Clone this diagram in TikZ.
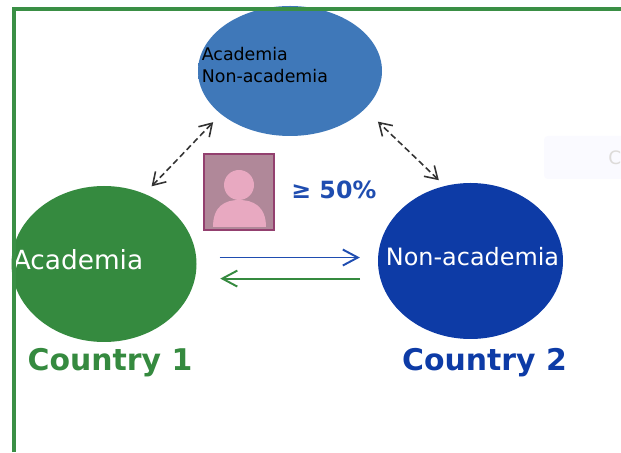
\documentclass[tikz,border=0pt]{standalone}
\usepackage{fontspec}
\setmainfont{DejaVu Sans}
\usepackage{xcolor}
\usetikzlibrary{shapes}
\usetikzlibrary{arrows.meta}
\definecolor{framegreen}{HTML}{3A8F45}
\definecolor{countrygreen}{HTML}{358A3F}
\definecolor{countryblue}{HTML}{0D3BA6}
\definecolor{hubblue}{HTML}{3F78B9}
\definecolor{hubedge}{HTML}{2A5488}
\definecolor{textblue}{HTML}{1F4DB0}
\definecolor{boxmauve}{HTML}{B08899}
\definecolor{boxedge}{HTML}{93406F}
\definecolor{personpink}{HTML}{E8A9C1}
\pgfdeclareradialshading{hubshade}{\pgfpoint{0bp}{0bp}}{color(0bp)=(hubblue); color(44bp)=(hubblue); color(50bp)=(hubedge)}
\tikzset{
  blob/.style={ellipse,inner sep=0pt,minimum width=3.7cm,minimum height=3.12cm},
  blobtext/.style={inner sep=0pt,white},
  hubtext/.style={inner sep=0pt,font=\fontsize{9.9}{12.5}\selectfont,black,align=left,anchor=west},
  countrytext/.style={inner sep=0pt,font=\fontsize{17}{20}\selectfont\bfseries},
  linkarrow/.style={{Straight Barb[length=2.4mm,width=3mm]}-{Straight Barb[length=2.4mm,width=3mm]},dash pattern=on 3.5pt off 2pt,line width=0.9pt,black!80},
  flowarrow/.style={-{Straight Barb[length=3mm,width=3.2mm]},line width=1.1pt}
}
\begin{document}
\begin{tikzpicture}
  \useasboundingbox (0,0) rectangle (12.42,9.04);
  \fill[blue!2,rounded corners=2pt] (10.88,5.46) rectangle (12.6,6.32);
  \node[inner sep=0pt,anchor=west,text=orange!10!black!15,font=\fontsize{10.5}{12}\selectfont] (faintc) at (12.16,5.88) {C};

  \node[blob,shading=hubshade,minimum width=3.68cm,minimum height=2.6cm] (hub) at (5.80,7.62) {};
  \node[blob,fill=countrygreen] (countryone) at (2.08,3.76) {};
  \node[blob,fill=countryblue] (countrytwo) at (9.41,3.82) {};

  \node[hubtext] (hubtext) at (4.03,7.74) {Academia\\Non-academia};
  \node[blobtext,font=\fontsize{15}{18}\selectfont] (onetext) at (1.56,3.85) {Academia};
  \node[blobtext,font=\fontsize{13.6}{18}\selectfont] (twotext) at (9.45,3.90) {Non-academia};
  \node[countrytext,text=countrygreen] (onelabel) at (2.20,1.78) {Country 1};
  \node[countrytext,text=countryblue] (twolabel) at (9.69,1.78) {Country 2};

  \node[draw=boxedge,fill=boxmauve,line width=1.1pt,minimum width=1.4cm,minimum height=1.52cm,inner sep=0pt] (person) at (4.78,5.20) {};
  \fill[personpink] (4.78,5.34) circle (0.30);
  \fill[personpink] (4.26,4.50) .. controls (4.26,4.92) and (4.50,5.04) .. (4.78,5.04)
    .. controls (5.06,5.04) and (5.32,4.92) .. (5.32,4.50) -- cycle;
  \node[inner sep=0pt,anchor=west,text=textblue,font=\fontsize{13.5}{16}\selectfont\bfseries] (share) at (5.82,5.24) {≥ 50\%};

  \draw[linkarrow,shorten <=0.20cm,shorten >=0.22cm] (countryone.60) -- (hub.212.7);
  \draw[linkarrow,shorten <=0.16cm,shorten >=0.36cm] (countrytwo.109.2) -- (hub.-27.6);
  \draw[flowarrow,textblue,shorten <=0.46cm,shorten >=0.36cm] (countryone.4.4) -- (countryone.4.4 -| countrytwo.177.5);
  \draw[flowarrow,countrygreen,shorten <=0.40cm,shorten >=0.50cm] (countrytwo.191.2) -- (countrytwo.191.2 -| countryone.-9.3);

  \draw[framegreen,line width=2pt] (0.28,0) -- (0.28,8.86) -- (12.42,8.86);
\end{tikzpicture}
\end{document}
